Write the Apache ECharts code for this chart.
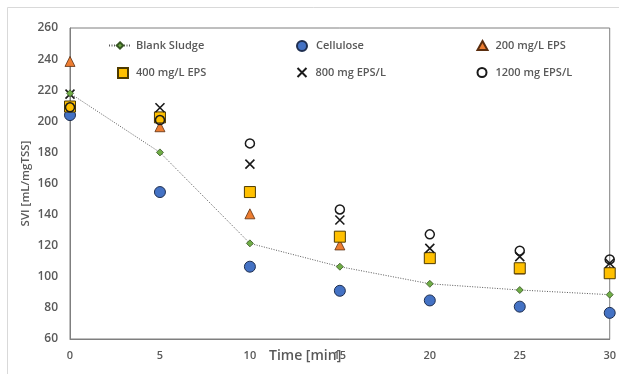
<!DOCTYPE html>
<html>
<head>
<meta charset="utf-8">
<script src="https://cdn.jsdelivr.net/npm/echarts@6/dist/echarts.min.js"></script>
<style>
  html, body { margin: 0; padding: 0; background: #fff; }
  #chart { width: 619px; height: 374px; }
</style>
</head>
<body>
<div id="chart"></div>
<script>
// Settling time (min) and sludge volume index readings per sample
const times = [0, 5, 10, 15, 20, 25, 30];
const blankSludge = [218, 180, 121.5, 106.5, 95.5, 91.5, 88.5];
const cellulose   = [204, 154.5, 106.5, 91, 84.8, 80.8, 76.8];
const eps200      = [238.5, 196.5, 140.5, 120.5, 113, 105, 103.5];
const eps400      = [209.5, 202.5, 154.5, 125.8, 112, 105.5, 102.3];
const eps800      = [217.5, 208.7, 172.5, 136.5, 118.3, 113, 108.7];
const eps1200     = [209, 200.8, 185.8, 143.3, 127.3, 116.8, 111.2];

const seriesNames = ['Blank Sludge', 'Cellulose', '200 mg/L EPS', '400 mg/L EPS', '800 mg EPS/L', '1200 mg EPS/L'];
const yTicks = { min: 60, max: 260, step: 20 };
const xTicks = { min: 0, max: 30, step: 5 };

const pairs = vals => times.map((t, i) => [t, vals[i]]);
const crossPath = 'path://M0,0L10,10M10,0L0,10';
const textGray = '#595959';
const font = 'Open Sans';

// one legend block per entry so each icon keeps its own size
function legendEntry(name, left, top, w, h, gapPad) {
  return {
    data: [name], left: left, top: top, padding: 0,
    itemWidth: w, itemHeight: h,
    textStyle: { color: textGray, fontFamily: font, fontWeight: 600, fontSize: 11, padding: [0, 0, 0, gapPad] }
  };
}

const option = {
  animation: false,
  backgroundColor: '#fff',
  grid: { left: 70, top: 28, right: 7, bottom: 35, show: true, borderColor: '#7f7f7f', borderWidth: 1 },
  xAxis: {
    type: 'value', min: xTicks.min, max: xTicks.max, interval: xTicks.step,
    axisLine: { show: true, onZero: false, lineStyle: { color: '#7f7f7f' } },
    axisTick: { show: false },
    splitLine: { show: false },
    axisLabel: { color: textGray, fontFamily: font, fontWeight: 600, fontSize: 11, margin: 11 }
  },
  yAxis: {
    type: 'value', min: yTicks.min, max: yTicks.max, interval: yTicks.step,
    axisLine: { show: true, lineStyle: { color: '#7f7f7f' } },
    axisTick: { show: false },
    splitLine: { show: false },
    axisLabel: { color: textGray, fontFamily: font, fontWeight: 600, fontSize: 12, margin: 12 },
    name: 'SVI [mL/mgTSS]', nameLocation: 'middle', nameGap: 38, nameMoveOverlap: false,
    nameTextStyle: { color: textGray, fontFamily: font, fontWeight: 600, fontSize: 11.5 }
  },
  legend: [
    legendEntry(seriesNames[0], 108, 40, 22, 8, 0),
    legendEntry(seriesNames[1], 296, 40, 10, 10, 4),
    legendEntry(seriesNames[2], 476.5, 40, 10, 9, 3),
    legendEntry(seriesNames[3], 117, 67, 10, 10, 3),
    legendEntry(seriesNames[4], 296.5, 67, 9, 9, 4),
    legendEntry(seriesNames[5], 476.5, 67, 9, 9, 4)
  ],
  graphic: [
    { type: 'rect', left: 5, top: 5, shape: { x: 0.5, y: 0.5, width: 700, height: 700 },
      style: { fill: 'none', stroke: '#d9d9d9', lineWidth: 1 }, silent: true, z: -10 },
    { type: 'text', left: 269, top: 349,
      style: { text: 'Time [min]', fill: textGray, font: '600 14px "Open Sans"' } }
  ],
  series: [
    {
      name: seriesNames[0], type: 'line', data: pairs(blankSludge),
      symbol: 'diamond', symbolSize: 7,
      lineStyle: { color: '#595959', width: 1, type: [1, 1.5] },
      itemStyle: { color: '#70ad47', borderColor: '#375623', borderWidth: 0.8 }
    },
    {
      name: seriesNames[1], type: 'scatter', data: pairs(cellulose),
      symbol: 'circle', symbolSize: 11,
      itemStyle: { color: '#4472c4', borderColor: '#1f2f50', borderWidth: 1, opacity: 1 }
    },
    {
      name: seriesNames[2], type: 'scatter', data: pairs(eps200),
      symbol: 'triangle', symbolSize: 10,
      itemStyle: { color: '#ed7d31', borderColor: '#5a2e10', borderWidth: 0.8, opacity: 1 }
    },
    {
      name: seriesNames[3], type: 'scatter', data: pairs(eps400),
      symbol: 'rect', symbolSize: 11,
      itemStyle: { color: '#ffc000', borderColor: '#4d3a00', borderWidth: 1, opacity: 1 }
    },
    {
      name: seriesNames[4], type: 'scatter', data: pairs(eps800),
      symbol: crossPath, symbolSize: 9,
      itemStyle: { color: 'transparent', borderColor: '#1a1a1a', borderWidth: 1.6, opacity: 1 }
    },
    {
      name: seriesNames[5], type: 'scatter', data: pairs(eps1200),
      symbol: 'circle', symbolSize: 9,
      itemStyle: { color: 'transparent', borderColor: '#1a1a1a', borderWidth: 1.5, opacity: 1 }
    }
  ]
};

const chart = echarts.init(document.getElementById('chart'), null, { renderer: 'canvas' });
chart.setOption(option);
</script>
</body>
</html>
